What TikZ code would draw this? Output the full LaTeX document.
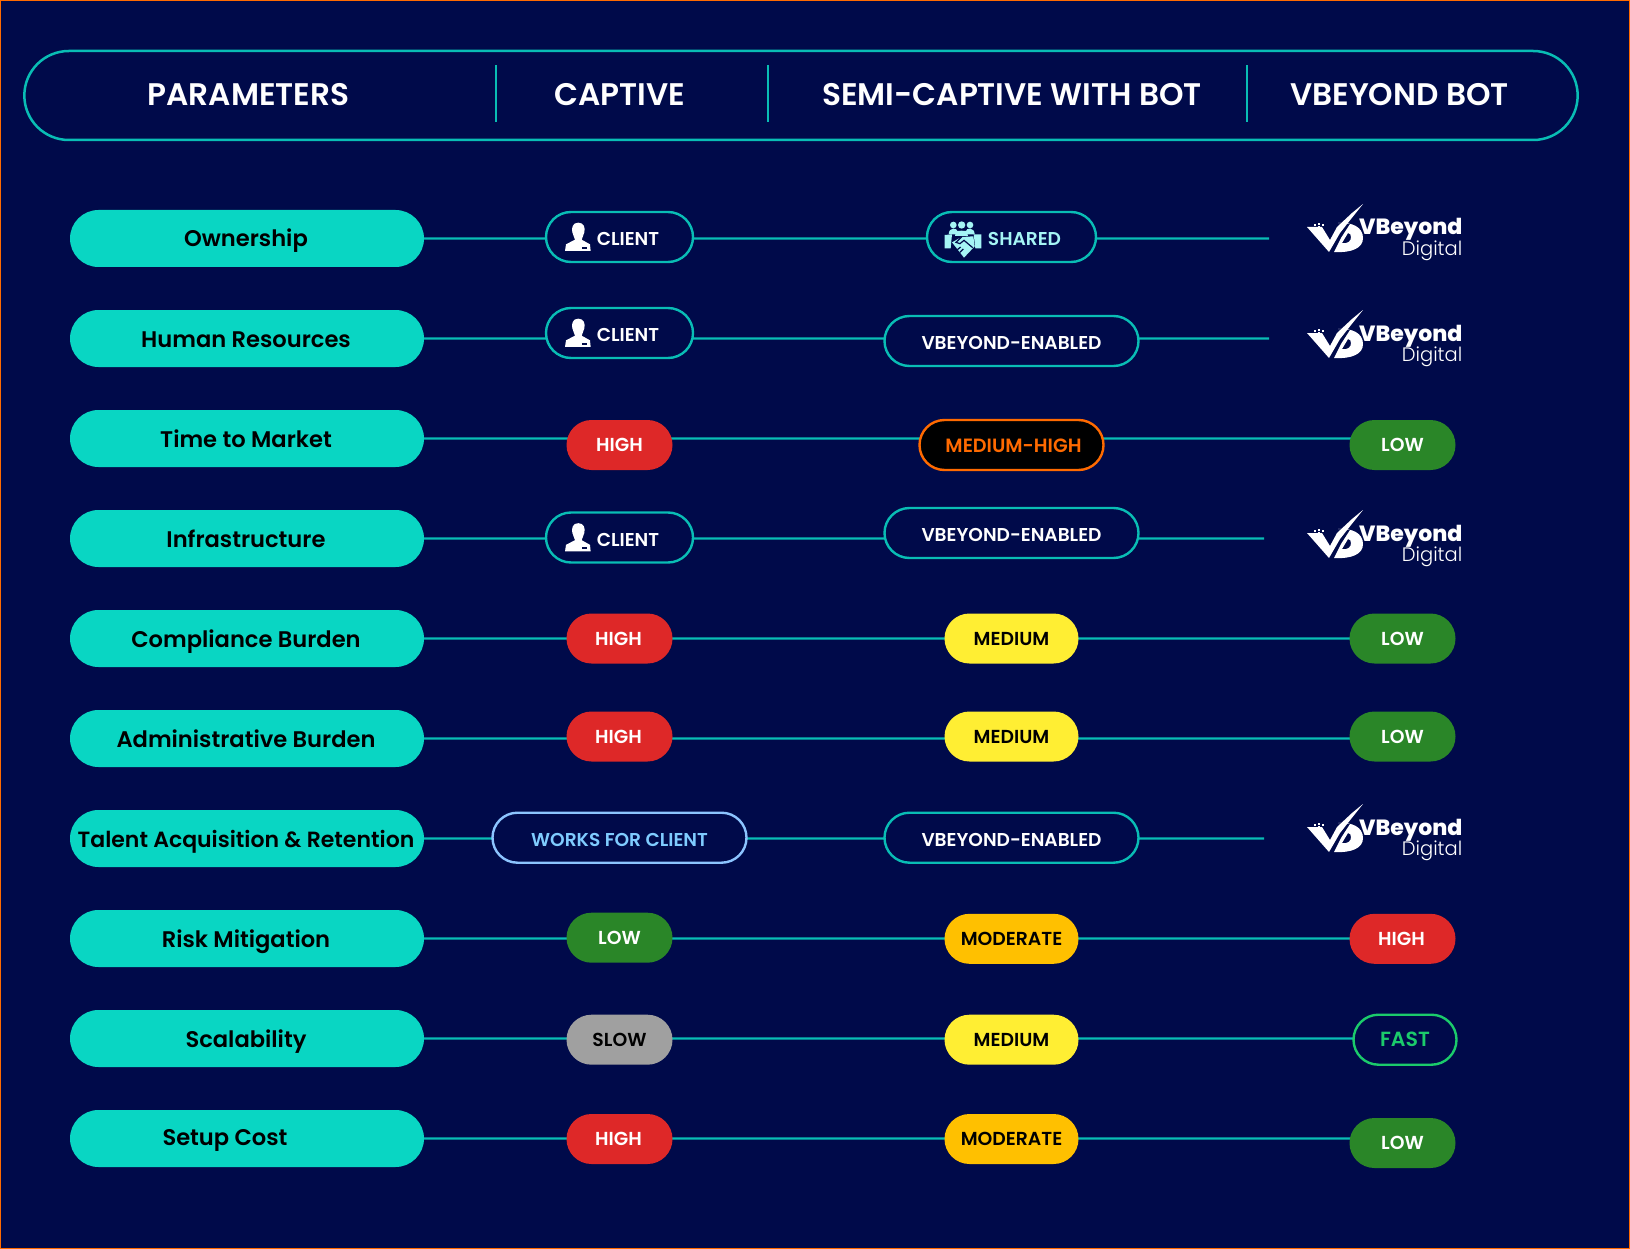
\documentclass[tikz,border=0pt]{standalone}
\usepackage{fontspec}
\setmainfont{Poppins}
\newfontfamily\popmedium{Poppins Medium}
\newfontfamily\popsemi{Poppins SemiBold}
\newfontfamily\poplight{Poppins Light}
\newfontfamily\popheavy{Poppins ExtraBold}
\usetikzlibrary{shapes.misc}
\usetikzlibrary{backgrounds}
\definecolor{bgblue}{HTML}{000A4A}
\definecolor{tealfill}{HTML}{09D6C3}
\definecolor{tealline}{HTML}{09BDB5}
\definecolor{highred}{HTML}{DE2828}
\definecolor{lowgreen}{HTML}{2A8628}
\definecolor{medyellow}{HTML}{FFEE33}
\definecolor{modamber}{HTML}{FFC000}
\definecolor{slowgray}{HTML}{A0A0A0}
\definecolor{hotorange}{HTML}{FF6A00}
\definecolor{skytext}{HTML}{7FCCFF}
\definecolor{skyline}{HTML}{8CC4FF}
\definecolor{fastgreen}{HTML}{1BCB6B}
\definecolor{sharedtext}{HTML}{A5F5F5}
\tikzset{
    pill/.style={rounded rectangle, minimum height=50pt, inner sep=0pt, text height=13.5pt, text depth=0pt, font=\fontsize{18.8}{18.8}\popsemi},
    param/.style={rounded rectangle, inner sep=0pt, fill=tealfill, minimum height=57pt, minimum width=354pt, text=black, text height=22pt, text depth=5pt, font=\fontsize{22.6}{22.6}\popsemi},
    outline/.style={pill, draw=tealline, line width=2.4pt, fill=bgblue, text=white, text height=17.5pt, font=\fontsize{18.6}{18.6}\popsemi},
    high/.style={pill, fill=highred, minimum width=106pt, text=white},
    low/.style={pill, fill=lowgreen, minimum width=106pt, text=white},
    slow/.style={pill, fill=slowgray, minimum width=106pt, text=black},
    medium/.style={pill, fill=medyellow, minimum width=134pt, text=black},
    moderate/.style={pill, fill=modamber, minimum width=134pt, text=black},
    link/.style={tealline, line width=2.4pt},
    head/.style={text=white, font=\fontsize{31.2}{31.2}\popsemi},
    divider/.style={tealline, line width=2.4pt},
    clienticon/.pic={
        \fill[white] (145,53) .. controls (128,53) and (124,68) .. (127,82) .. controls (129,92) and (135,100) .. (135,104)
            -- (108,118) -- (105,138) -- (182,138) -- (180,118) -- (155,104)
            .. controls (155,100) and (161,92) .. (163,82) .. controls (166,68) and (162,53) .. cycle;
        \fill[bgblue] (155,125) rectangle (172,132);
    },
    sharedicon/.pic={
        \fill[sharedtext] (100,60) circle (10) (125,60) circle (11) (150,60) circle (10);
        \fill[sharedtext] (86,88) .. controls (86,66) and (112,68) .. (112,78) -- (138,78) .. controls (138,68) and (164,66) .. (164,88) -- cycle;
        \fill[sharedtext] (106,92) .. controls (106,72) and (144,72) .. (144,92) -- cycle;
        \fill[sharedtext] (74,90) -- (96,88) -- (92,130) -- (74,130) -- cycle;
        \fill[sharedtext] (161,88) -- (184,88) -- (184,130) -- (166,130) -- cycle;
        \fill[sharedtext] (96,112) -- (125,96) -- (160,94) -- (164,124) -- (132,158) -- cycle;
        \draw[bgblue, line width=1.2pt] (125,96) -- (108,112) -- (120,116) -- (132,106) -- (158,128)
            (112,134) -- (122,126) (120,142) -- (130,132);
    },
    vlogo/.pic={
        \fill[white] (7,27) -- (22,27) -- (30,40) -- (37,27) -- (52,13) -- (63,4) -- (51,19) -- (40,33) -- (29,52) -- cycle;
        \fill[white, even odd rule] (38,23) .. controls (52,22) and (63,27) .. (63,38)
            .. controls (63,48) and (52,53) .. (34,52) -- (41,38) -- (50,24) -- cycle
            (42,43) .. controls (48,44) and (51,41) .. (51,37) .. controls (51,35) and (50,33) .. (48,33) -- cycle;
        \foreach \dotx/\doty in {14/24,18/26,18/23,22/24,13/27}
            \fill[white] (\dotx,\doty) rectangle ++(1.6,1.6);
        \node[anchor=base east, inner sep=0pt, text=white, font=\fontsize{22}{22}\popheavy] (word) at (162.5,35) {VBeyond};
        \node[anchor=base east, inner sep=0pt, text=white, font=\fontsize{19.5}{19.5}\poplight] (sub) at (162.5,55.5) {Digital};
    },
}
\begin{document}
\begin{tikzpicture}[x=1pt,y=-1pt]
    \useasboundingbox (0,0) rectangle (1630,1249);

    % header
    \node[rounded rectangle, draw=tealline, line width=2.5pt, minimum width=1560pt, minimum height=89pt] (header) at (801,95.5) {};
    \node[head] (hparam) at (248.5,94.5) {PARAMETERS};
    \node[head] (hcaptive) at (619.5,94.5) {CAPTIVE};
    \node[head] (hsemi) at (1012,94.5) {SEMI-CAPTIVE WITH BOT};
    \node[head] (hbot) at (1399.5,94.5) {VBEYOND BOT};
    \foreach \x in {496,768,1247}
        \draw[divider] (\x,65.5) -- (\x,122.5);

    % parameters
    \node[param] (ownership) at (247,238.5) {Ownership\hspace*{2pt}};
    \node[param] (human) at (247,338.5) {Human Resources\hspace*{2pt}};
    \node[param] (time) at (247,438.5) {Time to Market\hspace*{2pt}};
    \node[param] (infra) at (247,538.5) {Infrastructure\hspace*{2pt}};
    \node[param] (compliance) at (247,638.5) {Compliance Burden\hspace*{2pt}};
    \node[param] (admin) at (247,738.5) {Administrative Burden\hspace*{2pt}};
    \node[param, font=\fontsize{22}{22}\popsemi] (talent) at (247,838.5) {Talent Acquisition \& Retention\hspace*{2pt}};
    \node[param] (risk) at (247,938.5) {Risk Mitigation\hspace*{2pt}};
    \node[param] (scale) at (247,1038.5) {Scalability\hspace*{2pt}};
    \node[param, text height=18pt] (setup) at (247,1138.5) {Setup Cost\hspace*{44pt}};

    % captive
    \node[outline, minimum width=147pt] (capa) at (619.5,237) {\hspace*{17pt}CLIENT};
    \node[outline, minimum width=147pt] (capb) at (619.5,333) {\hspace*{17pt}CLIENT};
    \node[high] (capc) at (619.5,445) {HIGH};
    \node[outline, minimum width=147pt] (capd) at (619.5,537.5) {\hspace*{17pt}CLIENT};
    \node[high] (cape) at (619.5,638.5) {HIGH\hspace*{2pt}};
    \node[high] (capf) at (619.5,736.5) {HIGH\hspace*{2pt}};
    \node[outline, draw=skyline, text=skytext, minimum width=254pt] (capg) at (619.5,837.7) {WORKS FOR CLIENT};
    \node[low] (caph) at (619.5,937.7) {LOW};
    \node[slow] (capi) at (619.5,1039.7) {SLOW};
    \node[high] (capj) at (619.5,1139) {HIGH\hspace*{2pt}};
    \pic[scale=0.3333] at (530,205) {clienticon};
    \pic[scale=0.3333] at (530,301) {clienticon};
    \pic[scale=0.3333] at (530,505.5) {clienticon};

    % semi-captive
    \node[outline, text=sharedtext, minimum width=169pt] (semia) at (1011.5,237) {\hspace*{26pt}SHARED};
    \node[outline, minimum width=254pt] (semib) at (1011.5,341) {VBEYOND-ENABLED};
    \node[outline, draw=hotorange, fill=black, text=hotorange, minimum width=184pt, text height=14.5pt, font=\fontsize{19.2}{19.2}\popsemi] (semic) at (1011.5,445) {\hspace*{4pt}MEDIUM-HIGH};
    \node[outline, minimum width=254pt] (semid) at (1011.5,533) {VBEYOND-ENABLED};
    \node[medium] (semie) at (1011.5,638.5) {MEDIUM};
    \node[medium] (semif) at (1011.5,736.5) {MEDIUM};
    \node[outline, minimum width=254pt] (semig) at (1011.5,837.7) {VBEYOND-ENABLED};
    \node[moderate] (semih) at (1011.5,938.8) {MODERATE};
    \node[medium] (semii) at (1011.5,1039.7) {MEDIUM};
    \node[moderate] (semij) at (1011.5,1139) {MODERATE};
    \pic[scale=0.3333] at (920,205) {sharedicon};

    % vbeyond bot
    \coordinate (bota) at (1269,238.5);
    \coordinate (botb) at (1269,338.5);
    \node[low] (botc) at (1402.5,445) {LOW};
    \coordinate (botd) at (1264,538.5);
    \node[low] (bote) at (1402.5,638.5) {LOW};
    \node[low] (botf) at (1402.5,736.5) {LOW};
    \coordinate (botg) at (1264,838.5);
    \node[high] (both) at (1402.5,938.8) {HIGH\hspace*{2pt}};
    \node[outline, draw=fastgreen, text=fastgreen, minimum width=103pt, text height=14.5pt, font=\fontsize{20.5}{20.5}\popsemi] (boti) at (1405,1039.7) {FAST};
    \node[low] (botj) at (1402.5,1143) {LOW};
    \pic at (1300,200) {vlogo};
    \pic at (1300,306) {vlogo};
    \pic at (1300,506) {vlogo};
    \pic at (1300,800) {vlogo};

    \begin{scope}[on background layer]
        \fill[bgblue] (0,0) rectangle (1630,1249);
        \draw[hotorange, line width=2pt] (0,0) rectangle (1630,1249);
        \foreach \pa/\pb/\pc/\pd in {ownership/capa/semia/bota, human/capb/semib/botb, time/capc/semic/botc, infra/capd/semid/botd, compliance/cape/semie/bote, admin/capf/semif/botf, talent/capg/semig/botg, risk/caph/semih/both, scale/capi/semii/boti, setup/capj/semij/botj}
            \draw[link] (\pa) -- (\pa -| \pb) -- (\pa -| \pc) -- (\pa -| \pd);
    \end{scope}
\end{tikzpicture}
\end{document}
